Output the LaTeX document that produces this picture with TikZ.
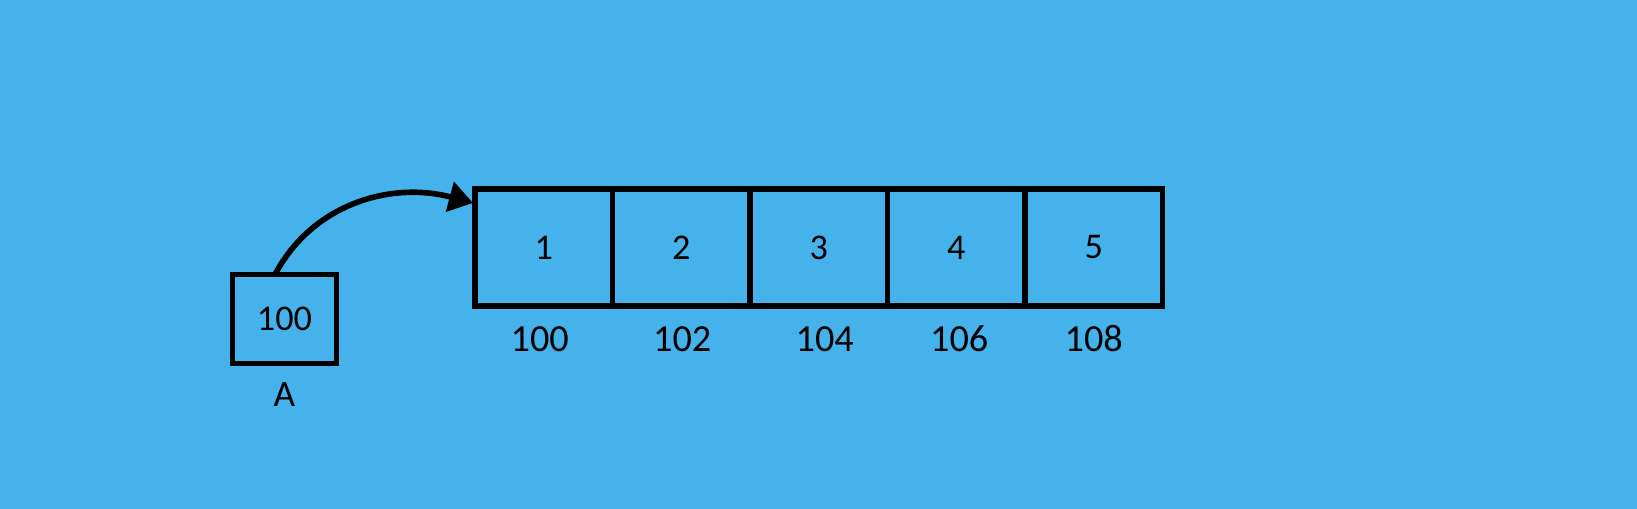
\documentclass[tikz,border=0pt]{standalone}
\usepackage{fontspec}
\setmainfont{Carlito}
\usetikzlibrary{positioning,arrows.meta}
\definecolor{bgblue}{RGB}{69,178,236}
\tikzset{
  cell/.style={draw,line width=1.6pt,minimum width=1.375cm,minimum height=1.17cm,inner sep=0pt,outer sep=0pt,font=\fontsize{10.3}{12}\selectfont},
  addr/.style={inner sep=0pt,font=\fontsize{10.9}{13}\selectfont}
}
\begin{document}
\begin{tikzpicture}
      \fill[bgblue] (0,0) rectangle (16.37,5.09);
      \useasboundingbox (0,0) rectangle (16.37,5.09);
      \node[cell,minimum width=1.04cm,minimum height=0.89cm] (A) at (2.845,1.90) {100};
      \node[addr,font=\fontsize{10.6}{13}\selectfont] (Alab) at ([yshift=-3.15mm]A.south) {A};
      \node[cell] (c1) at (5.4375,2.615) {1};
      \node[cell,right=0pt of c1] (c2) {2};
      \node[cell,right=0pt of c2] (c3) {3};
      \node[cell,right=0pt of c3] (c4) {4};
      \node[cell,right=0pt of c4] (c5) {5};
      \node[addr] (a1) at ([xshift=-0.4mm,yshift=-3.3mm]c1.south) {100};
      \node[addr] (a2) at ([xshift=0.1mm,yshift=-3.3mm]c2.south) {102};
      \node[addr] (a3) at ([xshift=0.6mm,yshift=-3.3mm]c3.south) {104};
      \node[addr] (a4) at ([xshift=0.3mm,yshift=-3.3mm]c4.south) {106};
      \node[addr] (a5) at ([yshift=-3.3mm]c5.south) {108};
      \begin{scope}[line width=1.6pt,-{Triangle[length=2.4mm,width=3mm]}]
        \draw ([xshift=-0.95mm]A.north) to[out=62,in=165] ([xshift=-0.2mm,yshift=4.45mm]c1.west);
      \end{scope}
    \end{tikzpicture}
\end{document}
